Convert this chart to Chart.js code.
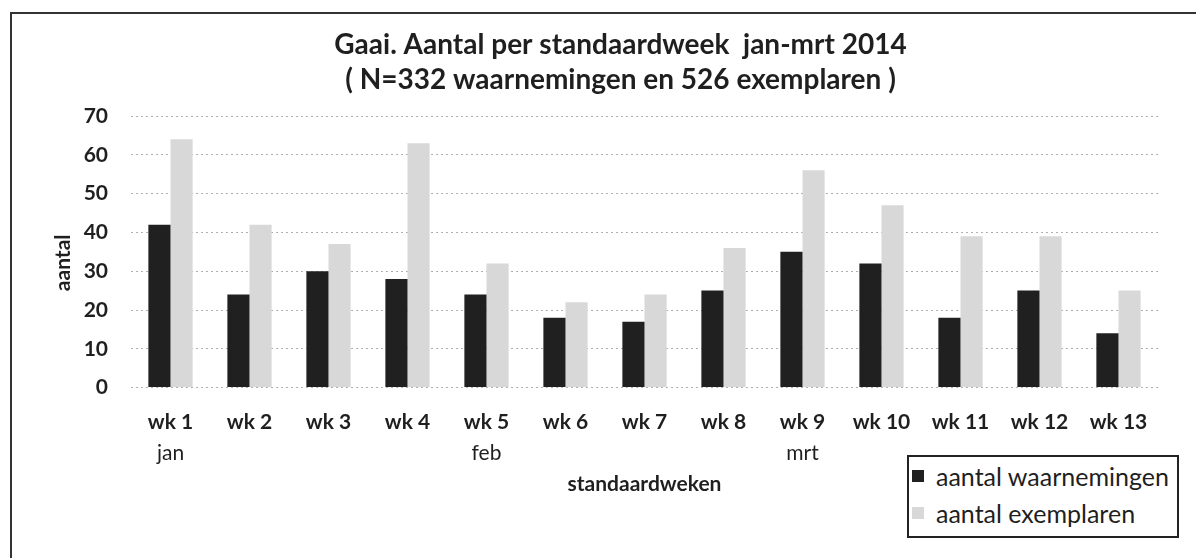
<!DOCTYPE html>
<html lang="nl">
  <head>
    <meta charset="UTF-8" />
    <title>Gaai per standaardweek</title>
    <script src="https://cdn.jsdelivr.net/npm/chart.js"></script>
    <style>
      body { margin: 0; background: #fff; font-family: Lato, "Open Sans", sans-serif; }
      #wrap { position: relative; width: 1196px; height: 558px; overflow: hidden; }
      #frame { position: absolute; left: 10px; top: 12px; width: 1200px; height: 560px; border: 2px solid #333; }
      #chartBox { position: absolute; left: 0; top: 0; width: 1196px; height: 558px; }
      #legend { position: absolute; left: 907px; top: 455px; width: 268px; height: 79px;
                border: 2px solid #222; background: #fff; font-size: 25px; color: #1f1f1f; }
      #legend .item { display: flex; align-items: center; height: 37px; padding-left: 3px; }
      #legend .sw { width: 12px; height: 12px; margin-right: 12px; }
    </style>
  </head>
  <body>
    <div id="wrap">
      <div id="frame"></div>
      <div id="chartBox"><canvas id="gaaiChart" width="1196" height="558"></canvas></div>
      <div id="legend"></div>
    </div>
    <script>
      const titleLines = ["Gaai. Aantal per standaardweek  jan-mrt 2014",
                          "( N=332 waarnemingen en 526 exemplaren )"];
      const yTitle = "aantal";
      const weeks = ["wk 1", "wk 2", "wk 3", "wk 4", "wk 5", "wk 6", "wk 7",
                     "wk 8", "wk 9", "wk 10", "wk 11", "wk 12", "wk 13"];
      const months = ["jan", "", "", "", "feb", "", "", "", "mrt", "", "", "", ""];
      const waarnemingen = [42, 24, 30, 28, 24, 18, 17, 25, 35, 32, 18, 25, 14];
      const exemplaren = [64, 42, 37, 63, 32, 22, 24, 36, 56, 47, 39, 39, 25];
      const yTicks = [0, 10, 20, 30, 40, 50, 60, 70];

      const textColor = "#1f1f1f";

      // title, y-axis name and month names
      const extraText = {
        id: "extraText",
        afterDraw(chart) {
          const ctx = chart.ctx;
          const area = chart.chartArea;
          const xs = chart.scales.x;
          ctx.save();
          ctx.fillStyle = textColor;
          ctx.textAlign = "center";
          ctx.textBaseline = "middle";

          ctx.font = "bold 28px Lato";
          const cx = (area.left + area.right) / 2 - 24;
          titleLines.forEach((t, i) => ctx.fillText(t, cx, 45 + i * 35));

          ctx.font = "21px Lato";
          months.forEach((m, i) => {
            if (m) ctx.fillText(m, xs.getPixelForTick(i), area.bottom + 66);
          });

          ctx.font = "bold 21px Lato";
          ctx.translate(63, (area.top + area.bottom) / 2 + 11);
          ctx.rotate(-Math.PI / 2);
          ctx.fillText(yTitle, 0, 0);
          ctx.restore();
        },
      };

      const chart = new Chart(document.getElementById("gaaiChart"), {
        type: "bar",
        data: {
          labels: weeks,
          datasets: [
            { label: "aantal waarnemingen", data: waarnemingen, backgroundColor: "#202020" },
            { label: "aantal exemplaren", data: exemplaren, backgroundColor: "#d8d8d8" },
          ],
        },
        options: {
          responsive: false,
          animation: false,
          devicePixelRatio: 1,
          layout: { padding: { left: 0, right: 38, top: 116, bottom: 61 } },
          datasets: { bar: { categoryPercentage: 0.56, barPercentage: 1 } },
          plugins: {
            legend: { display: false },
            tooltip: { enabled: false },
            title: { display: false },
          },
          scales: {
            x: {
              grid: { display: false },
              border: { display: false },
              ticks: { color: textColor, font: { family: "Lato", size: 21, weight: "bold" }, padding: 14, maxRotation: 0 },
              title: {
                display: true, text: "standaardweken", color: textColor,
                font: { family: "Lato", size: 21, weight: "bold" }, padding: { top: 23, bottom: 0 },
              },
            },
            y: {
              min: 0, max: 70,
              afterBuildTicks: (s) => { s.ticks = yTicks.map((v) => ({ value: v })); },
              afterFit: (s) => { s.width = 131; },
              grid: { color: "#b0b0b0", lineWidth: 1, tickLength: 0 },
              border: { display: false, dash: [2, 3] },
              ticks: { color: textColor, font: { family: "Lato", size: 21, weight: "bold" }, padding: 23 },
            },
          },
        },
        plugins: [extraText],
      });

      // legend box built from the datasets
      const legend = document.getElementById("legend");
      chart.data.datasets.forEach((ds) => {
        const row = document.createElement("div");
        row.className = "item";
        row.innerHTML = '<span class="sw" style="background:' + ds.backgroundColor + '"></span>' + ds.label;
        legend.appendChild(row);
      });
    </script>
  </body>
</html>
